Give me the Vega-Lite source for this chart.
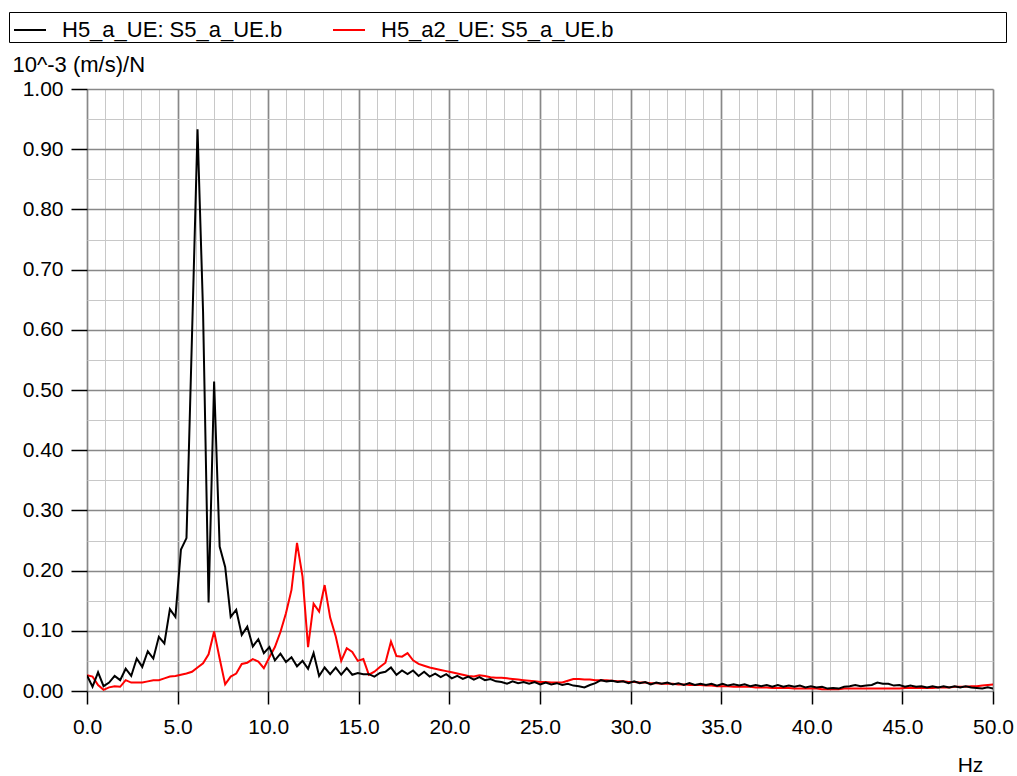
{
  "$schema": "https://vega.github.io/schema/vega-lite/v6.json",
  "width": 906,
  "height": 602,
  "autosize": "none",
  "padding": {"left": 87, "top": 89, "right": 24, "bottom": 85},
  "background": "white",
  "config": {"view": {"stroke": null}, "font": "Liberation Sans"},
  "data": {"values": [
    {"f":0,"k":0.026,"r":0.026},{"f":0.305,"k":0.007,"r":0.024},{"f":0.61,"k":0.031,"r":0.010},{"f":0.915,"k":0.008,"r":0.002},{"f":1.22,"k":0.014,"r":0.006},
    {"f":1.525,"k":0.025,"r":0.008},{"f":1.83,"k":0.018,"r":0.007},{"f":2.135,"k":0.037,"r":0.018},{"f":2.44,"k":0.025,"r":0.014},{"f":2.745,"k":0.054,"r":0.014},
    {"f":3.05,"k":0.040,"r":0.014},{"f":3.355,"k":0.066,"r":0.016},{"f":3.66,"k":0.054,"r":0.018},{"f":3.965,"k":0.090,"r":0.018},{"f":4.27,"k":0.079,"r":0.021},
    {"f":4.575,"k":0.136,"r":0.024},{"f":4.88,"k":0.123,"r":0.025},{"f":5.185,"k":0.235,"r":0.027},{"f":5.49,"k":0.254,"r":0.029},{"f":5.795,"k":0.59,"r":0.032},
    {"f":6.1,"k":0.933,"r":0.039},{"f":6.405,"k":0.63,"r":0.046},{"f":6.71,"k":0.147,"r":0.061},{"f":7.015,"k":0.514,"r":0.099},{"f":7.32,"k":0.240,"r":0.054},
    {"f":7.625,"k":0.206,"r":0.011},{"f":7.93,"k":0.123,"r":0.024},{"f":8.235,"k":0.135,"r":0.029},{"f":8.54,"k":0.093,"r":0.045},{"f":8.845,"k":0.107,"r":0.047},
    {"f":9.15,"k":0.074,"r":0.053},{"f":9.455,"k":0.086,"r":0.049},{"f":9.76,"k":0.063,"r":0.038},{"f":10.065,"k":0.073,"r":0.056},{"f":10.37,"k":0.051,"r":0.073},
    {"f":10.675,"k":0.062,"r":0.098},{"f":10.98,"k":0.048,"r":0.129},{"f":11.285,"k":0.056,"r":0.168},{"f":11.59,"k":0.041,"r":0.246},{"f":11.895,"k":0.050,"r":0.190},
    {"f":12.2,"k":0.037,"r":0.073},{"f":12.505,"k":0.063,"r":0.145},{"f":12.81,"k":0.025,"r":0.132},{"f":13.115,"k":0.039,"r":0.176},{"f":13.42,"k":0.028,"r":0.122},
    {"f":13.725,"k":0.039,"r":0.091},{"f":14.03,"k":0.027,"r":0.050},{"f":14.335,"k":0.038,"r":0.071},{"f":14.64,"k":0.027,"r":0.065},{"f":14.945,"k":0.030,"r":0.050},
    {"f":15.25,"k":0.028,"r":0.053},{"f":15.555,"k":0.028,"r":0.027},{"f":15.86,"k":0.024,"r":0.032},{"f":16.165,"k":0.030,"r":0.040},{"f":16.47,"k":0.032,"r":0.047},
    {"f":16.775,"k":0.039,"r":0.082},{"f":17.08,"k":0.027,"r":0.058},{"f":17.385,"k":0.034,"r":0.057},{"f":17.69,"k":0.028,"r":0.063},{"f":17.995,"k":0.034,"r":0.051},
    {"f":18.3,"k":0.025,"r":0.045},{"f":18.605,"k":0.032,"r":0.042},{"f":18.91,"k":0.024,"r":0.039},{"f":19.215,"k":0.029,"r":0.037},{"f":19.52,"k":0.023,"r":0.035},
    {"f":19.825,"k":0.028,"r":0.033},{"f":20.13,"k":0.021,"r":0.031},{"f":20.435,"k":0.025,"r":0.029},{"f":20.74,"k":0.020,"r":0.027},{"f":21.045,"k":0.024,"r":0.025},
    {"f":21.35,"k":0.019,"r":0.024},{"f":21.655,"k":0.023,"r":0.026},{"f":21.96,"k":0.018,"r":0.025},{"f":22.265,"k":0.020,"r":0.023},{"f":22.57,"k":0.016,"r":0.022},
    {"f":22.875,"k":0.015,"r":0.022},{"f":23.18,"k":0.012,"r":0.021},{"f":23.485,"k":0.016,"r":0.020},{"f":23.79,"k":0.013,"r":0.019},{"f":24.095,"k":0.015,"r":0.018},
    {"f":24.4,"k":0.012,"r":0.017},{"f":24.705,"k":0.015,"r":0.016},{"f":25.01,"k":0.011,"r":0.015},{"f":25.315,"k":0.014,"r":0.015},{"f":25.62,"k":0.011,"r":0.014},
    {"f":25.925,"k":0.013,"r":0.014},{"f":26.23,"k":0.010,"r":0.014},{"f":26.535,"k":0.012,"r":0.017},{"f":26.84,"k":0.009,"r":0.020},{"f":27.145,"k":0.008,"r":0.020},
    {"f":27.45,"k":0.006,"r":0.019},{"f":27.755,"k":0.010,"r":0.019},{"f":28.06,"k":0.013,"r":0.018},{"f":28.365,"k":0.018,"r":0.018},{"f":28.67,"k":0.016,"r":0.018},
    {"f":28.975,"k":0.017,"r":0.017},{"f":29.28,"k":0.015,"r":0.016},{"f":29.585,"k":0.016,"r":0.016},{"f":29.89,"k":0.013,"r":0.015},{"f":30.195,"k":0.016,"r":0.015},
    {"f":30.5,"k":0.013,"r":0.014},{"f":30.805,"k":0.015,"r":0.014},{"f":31.11,"k":0.011,"r":0.013},{"f":31.415,"k":0.014,"r":0.013},{"f":31.72,"k":0.012,"r":0.012},
    {"f":32.025,"k":0.014,"r":0.012},{"f":32.33,"k":0.011,"r":0.012},{"f":32.635,"k":0.013,"r":0.011},{"f":32.94,"k":0.010,"r":0.011},{"f":33.245,"k":0.013,"r":0.010},
    {"f":33.55,"k":0.010,"r":0.010},{"f":33.855,"k":0.012,"r":0.010},{"f":34.16,"k":0.010,"r":0.009},{"f":34.465,"k":0.012,"r":0.009},{"f":34.77,"k":0.009,"r":0.008},
    {"f":35.075,"k":0.012,"r":0.008},{"f":35.38,"k":0.009,"r":0.008},{"f":35.685,"k":0.011,"r":0.007},{"f":35.99,"k":0.009,"r":0.007},{"f":36.295,"k":0.011,"r":0.007},
    {"f":36.6,"k":0.008,"r":0.007},{"f":36.905,"k":0.010,"r":0.006},{"f":37.21,"k":0.008,"r":0.006},{"f":37.515,"k":0.010,"r":0.006},{"f":37.82,"k":0.007,"r":0.005},
    {"f":38.125,"k":0.010,"r":0.005},{"f":38.43,"k":0.007,"r":0.005},{"f":38.735,"k":0.009,"r":0.005},{"f":39.04,"k":0.007,"r":0.004},{"f":39.345,"k":0.009,"r":0.004},
    {"f":39.65,"k":0.006,"r":0.004},{"f":39.955,"k":0.008,"r":0.004},{"f":40.26,"k":0.006,"r":0.004},{"f":40.565,"k":0.007,"r":0.003},{"f":40.87,"k":0.004,"r":0.003},
    {"f":41.175,"k":0.005,"r":0.003},{"f":41.48,"k":0.004,"r":0.003},{"f":41.785,"k":0.007,"r":0.004},{"f":42.09,"k":0.008,"r":0.004},{"f":42.395,"k":0.010,"r":0.004},
    {"f":42.7,"k":0.008,"r":0.004},{"f":43.005,"k":0.009,"r":0.004},{"f":43.31,"k":0.010,"r":0.004},{"f":43.615,"k":0.014,"r":0.004},{"f":43.92,"k":0.012,"r":0.004},
    {"f":44.225,"k":0.012,"r":0.004},{"f":44.53,"k":0.009,"r":0.004},{"f":44.835,"k":0.010,"r":0.004},{"f":45.14,"k":0.007,"r":0.005},{"f":45.445,"k":0.009,"r":0.005},
    {"f":45.75,"k":0.007,"r":0.005},{"f":46.055,"k":0.008,"r":0.005},{"f":46.36,"k":0.006,"r":0.005},{"f":46.665,"k":0.008,"r":0.005},{"f":46.97,"k":0.006,"r":0.006},
    {"f":47.275,"k":0.008,"r":0.006},{"f":47.58,"k":0.006,"r":0.006},{"f":47.885,"k":0.008,"r":0.007},{"f":48.19,"k":0.006,"r":0.007},{"f":48.495,"k":0.008,"r":0.007},
    {"f":48.8,"k":0.006,"r":0.008},{"f":49.105,"k":0.005,"r":0.008},{"f":49.41,"k":0.004,"r":0.009},{"f":49.715,"k":0.006,"r":0.010},{"f":50.02,"k":0.004,"r":0.011}
  ]},
  "transform": [{"fold": ["k", "r"], "as": ["s", "v"]}],
  "encoding": {
    "x": {
      "field": "f", "type": "quantitative",
      "scale": {"domain": [0, 50], "nice": false, "zero": false},
      "axis": {
        "values": [0,1,2,3,4,5,6,7,8,9,10,11,12,13,14,15,16,17,18,19,20,21,22,23,24,25,26,27,28,29,30,31,32,33,34,35,36,37,38,39,40,41,42,43,44,45,46,47,48,49,50],
        "labelExpr": "datum.value % 5 === 0 ? format(datum.value, '.1f') : ''",
        "labelOverlap": false, "labelFlush": false,
        "labelFontSize": 21, "labelColor": "#000000", "labelPadding": 12,
        "tickSize": 13, "tickColor": "#000000", "tickWidth": 1.5,
        "tickOpacity": {"condition": {"test": "datum.value % 5 === 0", "value": 1}, "value": 0},
        "grid": true,
        "gridColor": {"condition": {"test": "datum.value % 5 === 0", "value": "#888888"}, "value": "#c8c8c8"},
        "gridWidth": {"condition": {"test": "datum.value % 5 === 0", "value": 1.7}, "value": 1},
        "domain": false,
        "title": "Hz", "titleFontSize": 21, "titleFontWeight": "normal", "titleColor": "#000000",
        "titleX": 883, "titleY": 74, "titleAlign": "center", "titleBaseline": "middle", "titleAnchor": null
      }
    },
    "y": {
      "field": "v", "type": "quantitative",
      "scale": {"domain": [0, 1], "nice": false},
      "axis": {
        "values": [0,0.05,0.1,0.15,0.2,0.25,0.3,0.35,0.4,0.45,0.5,0.55,0.6,0.65,0.7,0.75,0.8,0.85,0.9,0.95,1],
        "labelExpr": "round(datum.value * 100) % 10 === 0 ? format(datum.value, '.2f') : ''",
        "labelOverlap": false, "labelFlush": false,
        "labelFontSize": 21, "labelColor": "#000000", "labelPadding": 8,
        "tickSize": 16, "tickColor": "#000000", "tickWidth": 1.5,
        "tickOpacity": {"condition": {"test": "round(datum.value * 100) % 10 === 0", "value": 1}, "value": 0},
        "grid": true,
        "gridColor": {"condition": {"test": "round(datum.value * 100) % 10 === 0", "value": "#888888"}, "value": "#c8c8c8"},
        "gridWidth": {"condition": {"test": "round(datum.value * 100) % 10 === 0", "value": 1.7}, "value": 1},
        "domain": false,
        "title": "10^-3 (m/s)/N", "titleFontSize": 22, "titleFontWeight": "normal", "titleColor": "#000000",
        "titleAngle": 0, "titleX": -75, "titleY": -25, "titleAlign": "left", "titleBaseline": "middle", "titleAnchor": null
      }
    },
    "color": {
      "field": "s", "type": "nominal",
      "scale": {"domain": ["k", "r"], "range": ["#000000", "#ff0000"]},
      "legend": {
        "orient": "none", "legendX": -78, "legendY": -77, "direction": "horizontal",
        "title": null, "padding": 1, "strokeColor": "#000000", "fillColor": "#ffffff",
        "symbolType": "stroke", "symbolSize": 1024, "symbolStrokeWidth": 2, "symbolOffset": 3,
        "labelFontSize": 22, "labelColor": "#000000", "labelOffset": 15, "labelLimit": 2000,
        "columnPadding": 46,
        "labelExpr": "datum.label === 'k' ? 'H5_a_UE: S5_a_UE.b' : pad('H5_a2_UE: S5_a_UE.b', 83, '\u00a0') + '\u200b'"
      }
    }
  },
  "layer": [
    {"transform": [{"filter": "datum.s === 'r'"}], "mark": {"type": "line", "strokeWidth": 2, "clip": true}},
    {"transform": [{"filter": "datum.s === 'k'"}], "mark": {"type": "line", "strokeWidth": 2, "clip": true}}
  ]
}
